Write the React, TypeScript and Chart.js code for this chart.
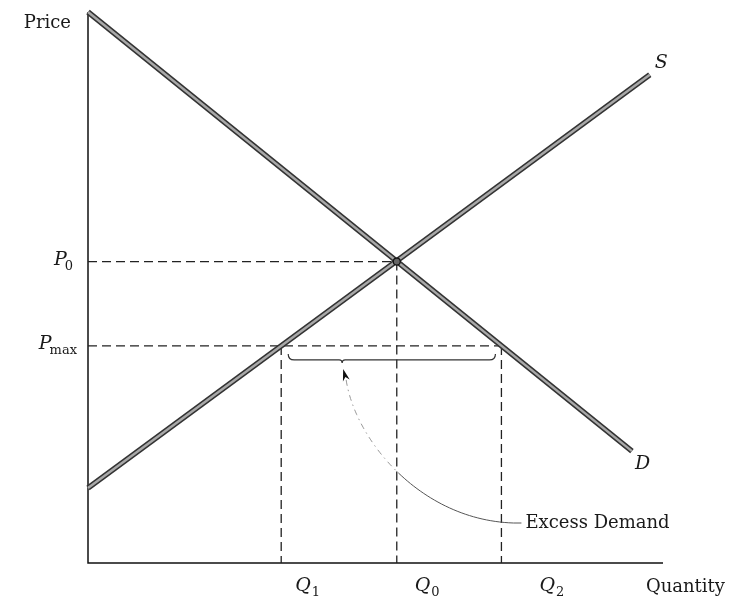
import React, { useEffect, useRef } from "react";
import { Chart, registerables } from "chart.js";

Chart.register(...registerables);

// Demand and supply curves (quantity, price) in chart units 0..100
const demandQ = [0, 94.6];
const demandP = [100, 20.3];
const supplyQ = [0, 97.7];
const supplyP = [13.6, 88.6];

// Equilibrium and price ceiling
const eqQ = [53.7];
const eqP = [54.7];
const ceilingP = [39.4];
const shortageQ = [33.6, 71.9]; // Q1 (supplied), Q2 (demanded)
const braceTipQ = [44.2];

// Labels
const priceLabels = ["P|0", "P|max"];
const quantityLabels = ["Q|1", "Q|0", "Q|2"];
const axisTitles = ["Price", "Quantity"];
const curveLabels = ["S", "D"];
const annotationText = ["Excess Demand"];

const FONT = '"DejaVu Serif", serif';

function pts(xs: number[], ys: number[]) {
  return xs.map((x, i) => ({ x, y: ys[i] }));
}

export default function App() {
  const ref = useRef<HTMLCanvasElement | null>(null);

  useEffect(() => {
    if (!ref.current) return;
    const Q0 = eqQ[0];
    const P0 = eqP[0];
    const Pmax = ceilingP[0];
    const Q1 = shortageQ[0];
    const Q2 = shortageQ[1];

    const dash = {
      borderColor: "#222",
      borderWidth: 1.3,
      borderDash: [9, 5],
      showLine: true,
      pointRadius: 0,
      order: 3,
      clip: false as any,
    };

    const datasets: any[] = [
      // curves: inner light stroke
      { data: pts(demandQ, demandP), borderColor: "#a8a8a8", borderWidth: 2.4, showLine: true, pointRadius: 0, order: 1, clip: false },
      { data: pts(supplyQ, supplyP), borderColor: "#a8a8a8", borderWidth: 2.4, showLine: true, pointRadius: 0, order: 1, clip: false },
      // curves: dark casing
      { data: pts(demandQ, demandP), borderColor: "#333", borderWidth: 5.5, showLine: true, pointRadius: 0, order: 2, clip: false },
      { data: pts(supplyQ, supplyP), borderColor: "#333", borderWidth: 5.5, showLine: true, pointRadius: 0, order: 2, clip: false },
      // equilibrium dashes
      { ...dash, data: [{ x: 0, y: P0 }, { x: Q0, y: P0 }] },
      { ...dash, data: [{ x: Q0, y: P0 }, { x: Q0, y: 0 }] },
      // ceiling dashes
      { ...dash, data: [{ x: 0, y: Pmax }, { x: Q2, y: Pmax }] },
      { ...dash, data: [{ x: Q1, y: Pmax }, { x: Q1, y: 0 }] },
      { ...dash, data: [{ x: Q2, y: Pmax }, { x: Q2, y: 0 }] },
      // axes
      { data: [{ x: 0, y: 100 }, { x: 0, y: 0 }, { x: 100, y: 0 }], borderColor: "#111", borderWidth: 1.5, showLine: true, pointRadius: 0, order: 4, clip: false },
      // equilibrium point
      { data: pts(eqQ, eqP), showLine: false, pointRadius: 3.5, pointBackgroundColor: "#666", pointBorderColor: "#111", pointBorderWidth: 1.2, order: 0, clip: false },
    ];

    const drawSub = (ctx: CanvasRenderingContext2D, spec: string, x: number, y: number, align: "left" | "right", gap: number) => {
      const [main, sub] = spec.split("|");
      const mainFont = `italic 19px ${FONT}`;
      const subFont = `13px ${FONT}`;
      ctx.font = mainFont;
      const mw = ctx.measureText(main).width;
      ctx.font = subFont;
      const sw = ctx.measureText(sub).width;
      const left = align === "left" ? x : x - mw - sw - gap;
      ctx.textAlign = "left";
      ctx.textBaseline = "alphabetic";
      ctx.font = mainFont;
      ctx.fillText(main, left, y);
      ctx.font = subFont;
      ctx.fillText(sub, left + mw + gap, y + 5);
    };

    const annot = {
      id: "annot",
      afterDatasetsDraw(chart: any) {
        const ctx: CanvasRenderingContext2D = chart.ctx;
        const xs = chart.scales.x;
        const ys = chart.scales.y;
        const X = (v: number) => xs.getPixelForValue(v);
        const Y = (v: number) => ys.getPixelForValue(v);
        ctx.save();
        ctx.fillStyle = "#1a1a1a";
        ctx.strokeStyle = "#1a1a1a";

        // Axis titles
        ctx.font = `18px ${FONT}`;
        ctx.textAlign = "right";
        ctx.textBaseline = "middle";
        ctx.fillText(axisTitles[0], X(0) - 17, Y(100) + 11);
        ctx.textBaseline = "alphabetic";
        ctx.fillText(axisTitles[1], X(100) + 62, Y(0) + 29);

        // Price labels
        drawSub(ctx, priceLabels[0], X(0) - 15, Y(P0) + 3, "right", -2);
        drawSub(ctx, priceLabels[1], X(0) - 11, Y(Pmax) + 3, "right", -2);

        // Quantity labels
        const qVals = [Q1, Q0, Q2];
        const qOff = [14, 18, 38];
        quantityLabels.forEach((l, i) => drawSub(ctx, l, X(qVals[i]) + qOff[i], Y(0) + 28, "left", 1));

        // Curve labels
        ctx.font = `italic 19px ${FONT}`;
        ctx.textAlign = "left";
        ctx.textBaseline = "middle";
        ctx.fillText(curveLabels[0], X(supplyQ[1]) + 5, Y(supplyP[1]) - 12);
        ctx.fillText(curveLabels[1], X(demandQ[1]) + 3, Y(demandP[1]) + 13);

        // Brace
        const bx1 = X(Q1) + 7;
        const bx2 = X(Q2) - 6;
        const bt = X(braceTipQ[0]);
        const yTop = Y(Pmax) + 8;
        const yMid = yTop + 6;
        const r = 6;
        ctx.lineWidth = 1.2;
        ctx.strokeStyle = "#333";
        ctx.beginPath();
        ctx.moveTo(bx1, yTop);
        ctx.quadraticCurveTo(bx1, yMid, bx1 + r, yMid);
        ctx.lineTo(bt - 3, yMid);
        ctx.quadraticCurveTo(bt, yMid, bt, yMid + 3);
        ctx.quadraticCurveTo(bt, yMid, bt + 3, yMid);
        ctx.lineTo(bx2 - r, yMid);
        ctx.quadraticCurveTo(bx2, yMid, bx2, yTop);
        ctx.stroke();

        // Arrow (curve from label to brace tip)
        const tipX = bt + 1;
        const tipY = yMid + 9;
        const ax = tipX + 3, ay = tipY + 11;
        const ex = X(Q2) + 12;
        const ey = Y(0) - 40;
        const c1x = ax + 9, c1y = ay + 60;
        const c2x = ex - 93, c2y = ey - 3;
        const N = 60;
        const bez = (t: number) => {
          const u = 1 - t;
          return {
            x: u * u * u * ax + 3 * u * u * t * c1x + 3 * u * t * t * c2x + t * t * t * ex,
            y: u * u * u * ay + 3 * u * u * t * c1y + 3 * u * t * t * c2y + t * t * t * ey,
          };
        };
        // upper part: dash-dot light
        ctx.setLineDash([6, 4, 1.5, 4]);
        ctx.strokeStyle = "#999";
        ctx.lineWidth = 1;
        ctx.beginPath();
        for (let i = 0; i <= N / 2; i++) {
          const p = bez(i / N);
          if (i === 0) ctx.moveTo(p.x, p.y);
          else ctx.lineTo(p.x, p.y);
        }
        ctx.stroke();
        ctx.setLineDash([]);
        ctx.strokeStyle = "#555";
        ctx.beginPath();
        for (let i = N / 2; i <= N; i++) {
          const p = bez(i / N);
          if (i === N / 2) ctx.moveTo(p.x, p.y);
          else ctx.lineTo(p.x, p.y);
        }
        ctx.lineTo(ex + 8, ey);
        ctx.stroke();

        // arrowhead
        const dx = tipX - ax, dy = tipY - ay;
        const len = Math.hypot(dx, dy);
        const ux = dx / len, uy = dy / len;
        const hl = 12, hw = 3.5;
        const bxp = tipX - ux * hl, byp = tipY - uy * hl;
        ctx.fillStyle = "#111";
        ctx.beginPath();
        ctx.moveTo(tipX, tipY);
        ctx.lineTo(bxp - uy * hw, byp + ux * hw);
        ctx.lineTo(tipX - ux * hl * 0.7, tipY - uy * hl * 0.7);
        ctx.lineTo(bxp + uy * hw, byp - ux * hw);
        ctx.closePath();
        ctx.fill();

        // annotation text
        ctx.fillStyle = "#1a1a1a";
        ctx.font = `18px ${FONT}`;
        ctx.textAlign = "left";
        ctx.textBaseline = "middle";
        ctx.fillText(annotationText[0], ex + 12, ey);

        ctx.restore();
      },
    };

    const chart = new Chart(ref.current, {
      type: "scatter",
      data: { datasets },
      options: {
        responsive: false,
        animation: false,
        layout: { padding: { left: 88, right: 67, top: 12, bottom: 35 } },
        plugins: { legend: { display: false }, tooltip: { enabled: false } },
        scales: {
          x: { type: "linear", min: 0, max: 100, display: false },
          y: { type: "linear", min: 0, max: 100, display: false },
        },
      },
      plugins: [annot],
    } as any);
    return () => chart.destroy();
  }, []);

  return (
    <div style={{ position: "fixed", left: 0, top: 0, width: 730, height: 598, background: "#fff" }}>
      <canvas ref={ref} width={730} height={598} style={{ display: "block" }} />
    </div>
  );
}
